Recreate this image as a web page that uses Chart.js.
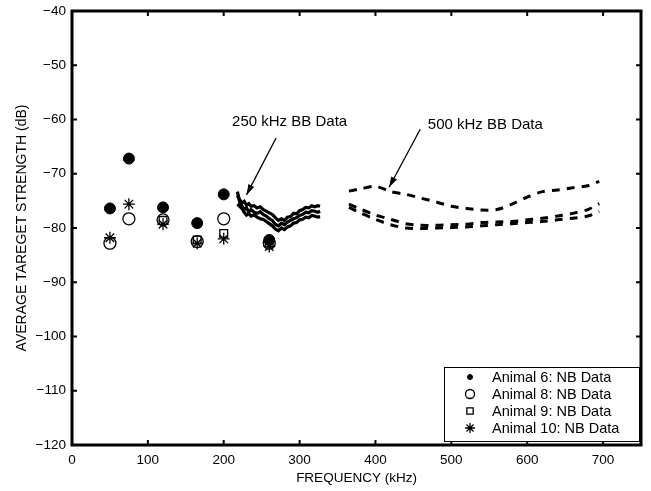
<!DOCTYPE html>
<html><head><meta charset="utf-8">
<script src="https://cdn.jsdelivr.net/npm/chart.js@4/dist/chart.umd.min.js"></script>
<style>html,body{margin:0;padding:0;background:#fff;}canvas{display:block;}</style>
</head><body>
<canvas id="c" width="651" height="491"></canvas>
<script>
// ---- data ----
const xTicks = [0, 100, 200, 300, 400, 500, 600, 700];
const yTicks = [-120, -110, -100, -90, -80, -70, -60, -50, -40];
const nbFreq = [50, 75, 120, 165, 200, 260];
const animal6 = [-76.4, -67.2, -76.2, -79.1, -73.8, -82.2];
const animal8 = [-82.8, -78.3, -78.5, -82.5, -78.3, -82.8];
const animal9 = [null, null, -78.6, -82.2, -81.0, -82.8];
const animal10 = [-81.8, -75.6, -79.3, -82.8, -82.0, -83.4];
const bb250Freq = [218, 221, 224, 227, 230, 233, 236, 240, 244, 248, 252, 256, 260, 264, 268, 272, 276, 280, 284, 288, 292, 296, 300, 304, 308, 312, 316, 320, 324, 327];
const bb250A = [-74.0, -74.8, -75.4, -75.1, -75.8, -75.5, -76.0, -75.9, -76.3, -76.1, -76.6, -76.9, -77.2, -77.5, -78.1, -78.6, -78.3, -78.6, -78.0, -77.9, -77.3, -77.4, -76.8, -76.6, -76.2, -76.3, -75.9, -76.1, -75.9, -76.0];
const bb250B = [-73.3, -75.2, -75.9, -76.6, -76.3, -77.0, -76.6, -77.1, -77.3, -77.0, -77.5, -77.8, -78.3, -78.6, -79.3, -79.6, -79.1, -79.4, -78.9, -78.6, -78.3, -78.1, -77.7, -77.5, -77.1, -77.2, -76.8, -76.9, -77.1, -76.9];
const bb250C = [-75.6, -76.0, -76.4, -77.1, -77.6, -77.3, -77.8, -77.6, -78.0, -78.3, -78.4, -78.8, -79.2, -79.6, -80.2, -80.5, -80.0, -80.3, -79.8, -79.6, -79.1, -79.0, -78.5, -78.4, -78.0, -78.1, -77.7, -77.8, -78.0, -77.9];
const bb500Freq = [365, 380, 400, 420, 440, 460, 480, 500, 520, 540, 560, 580, 600, 620, 640, 660, 680, 695];
const bb500A = [-73.2, -72.8, -72.3, -73.3, -73.8, -74.5, -75.2, -76.0, -76.4, -76.7, -76.6, -75.6, -74.3, -73.3, -73.0, -72.6, -72.2, -71.4];
const bb500B = [-75.6, -76.5, -77.6, -78.4, -79.2, -79.5, -79.5, -79.4, -79.3, -79.0, -78.9, -78.8, -78.5, -78.2, -77.8, -77.3, -76.6, -75.5];
const bb500C = [-76.2, -77.2, -78.4, -79.4, -80.0, -80.1, -80.0, -79.9, -79.8, -79.6, -79.4, -79.2, -79.0, -78.8, -78.5, -78.2, -77.8, -77.0];
const legendLabels = ['Animal 6: NB Data', 'Animal 8: NB Data', 'Animal 9: NB Data', 'Animal 10: NB Data'];
const noteTexts = ['250 kHz BB Data', '500 kHz BB Data'];
const xTitle = 'FREQUENCY (kHz)';
const yTitle = 'AVERAGE TAREGET STRENGTH (dB)';
// annotation anchors in data units [textX, textY, tailX, tailY, headX, headY]
const noteAnchors = [[211, -60.5, 269, -63.4, 230, -73.9], [469, -61.0, 459, -61.8, 418, -72.5]];

// ---- build ----
const FONT = '"Liberation Sans", Arial, sans-serif';
const minus = v => String(v).replace('-', '\u2212');
const pts = (xs, ys) => xs.map((x, i) => ({x: x, y: ys[i]})).filter(p => p.y !== null);

const nbStyles = [
  {pointStyle: 'circle', radius: 5.5, bg: '#000', bw: 1},
  {pointStyle: 'circle', radius: 6, bg: 'rgba(0,0,0,0)', bw: 1.3},
  {pointStyle: 'rect', radius: 5.5, bg: 'rgba(0,0,0,0)', bw: 1.3},
  {pointStyle: 'star', radius: 6, bg: 'rgba(0,0,0,0)', bw: 1.3}
];
const nbSeries = [animal6, animal8, animal9, animal10];
const datasets = [];
nbSeries.forEach((s, i) => {
  const st = nbStyles[i];
  datasets.push({
    label: legendLabels[i], type: 'scatter', data: pts(nbFreq, s), showLine: false,
    pointStyle: st.pointStyle, pointRadius: st.radius, pointBackgroundColor: st.bg,
    pointBorderColor: '#000', pointBorderWidth: st.bw, isNB: true
  });
});
[bb250A, bb250B, bb250C].forEach(s => datasets.push({
  type: 'line', data: pts(bb250Freq, s), borderColor: '#000', borderWidth: 3.2,
  pointRadius: 0, tension: 0, fill: false
}));
[bb500A, bb500B, bb500C].forEach(s => datasets.push({
  type: 'line', data: pts(bb500Freq, s), borderColor: '#000', borderWidth: 3,
  borderDash: [8, 7], pointRadius: 0, tension: 0.3, fill: false
}));

const framePlugin = {
  id: 'frame',
  afterDraw(chart) {
    const ctx = chart.ctx, a = chart.chartArea, xs = chart.scales.x, ys = chart.scales.y;
    ctx.save();
    ctx.strokeStyle = '#000';
    ctx.lineWidth = 3;
    ctx.strokeRect(a.left, a.top, a.right - a.left, a.bottom - a.top);
    ctx.lineWidth = 2;
    ctx.beginPath();
    xTicks.forEach(t => {
      const px = xs.getPixelForValue(t);
      ctx.moveTo(px, a.bottom); ctx.lineTo(px, a.bottom - 5);
      ctx.moveTo(px, a.top); ctx.lineTo(px, a.top + 5);
    });
    yTicks.forEach(t => {
      const py = ys.getPixelForValue(t);
      ctx.moveTo(a.left, py); ctx.lineTo(a.left + 5, py);
      ctx.moveTo(a.right, py); ctx.lineTo(a.right - 5, py);
    });
    ctx.stroke();
    // annotations
    ctx.fillStyle = '#000';
    ctx.font = '15px ' + FONT;
    ctx.textBaseline = 'middle';
    ctx.textAlign = 'left';
    noteAnchors.forEach((n, i) => {
      ctx.fillText(noteTexts[i], xs.getPixelForValue(n[0]), ys.getPixelForValue(n[1]));
      const x1 = xs.getPixelForValue(n[2]), y1 = ys.getPixelForValue(n[3]);
      const x2 = xs.getPixelForValue(n[4]), y2 = ys.getPixelForValue(n[5]);
      ctx.lineWidth = 1.3;
      ctx.beginPath(); ctx.moveTo(x1, y1); ctx.lineTo(x2, y2); ctx.stroke();
      const ang = Math.atan2(y2 - y1, x2 - x1), L = 11, w = 0.3;
      ctx.beginPath();
      ctx.moveTo(x2, y2);
      ctx.lineTo(x2 - L * Math.cos(ang - w), y2 - L * Math.sin(ang - w));
      ctx.lineTo(x2 - L * Math.cos(ang + w), y2 - L * Math.sin(ang + w));
      ctx.closePath(); ctx.fill();
    });
    // legend
    const bx = a.right - 197, by = a.bottom - 78, bw = 195, bh = 74;
    ctx.fillStyle = '#fff';
    ctx.fillRect(bx, by, bw, bh);
    ctx.lineWidth = 1;
    ctx.strokeStyle = '#000';
    ctx.strokeRect(bx + 0.5, by + 0.5, bw, bh);
    ctx.font = '14.5px ' + FONT;
    chart.data.datasets.filter(d => d.isNB).forEach((d, i) => {
      const ry = by + 10 + i * 17;
      const mx = bx + 26;
      ctx.save();
      ctx.lineWidth = d.pointBorderWidth;
      ctx.strokeStyle = '#000';
      ctx.fillStyle = d.pointBackgroundColor;
      const r = i === 0 ? 2.5 : (i === 3 ? 5 : 4.5);
      Chart.helpers.drawPoint(ctx, {pointStyle: d.pointStyle, radius: r, borderWidth: d.pointBorderWidth}, mx, ry);
      ctx.restore();
      ctx.fillStyle = '#000';
      ctx.textAlign = 'left';
      ctx.fillText(d.label, bx + 48, ry + 1);
    });
    ctx.restore();
  }
};

new Chart(document.getElementById('c'), {
  type: 'scatter',
  data: {datasets: datasets},
  options: {
    responsive: false, animation: false, devicePixelRatio: 1,
    layout: {padding: {top: 11, right: 10, left: 14, bottom: 0}},
    plugins: {legend: {display: false}, tooltip: {enabled: false}},
    scales: {
      x: {
        type: 'linear', min: 0, max: 750,
        afterBuildTicks: s => { s.ticks = xTicks.map(v => ({value: v})); },
        afterFit: s => { s.height = 46; s.paddingLeft = 0; s.paddingRight = 0; },
        grid: {display: false, drawTicks: false},
        border: {display: false},
        ticks: {color: '#000', font: {family: FONT, size: 13.5}, padding: 7, maxRotation: 0, callback: v => minus(v)},
        title: {display: true, text: xTitle, color: '#000', font: {family: FONT, size: 13.5}, padding: {top: 0, bottom: 5}}
      },
      y: {
        type: 'linear', min: -120, max: -40,
        afterBuildTicks: s => { s.ticks = yTicks.map(v => ({value: v})); },
        afterFit: s => { s.width = 58; s.paddingTop = 0; s.paddingBottom = 0; },
        grid: {display: false, drawTicks: false},
        border: {display: false},
        ticks: {color: '#000', font: {family: FONT, size: 13.5}, padding: 6, callback: v => minus(v)},
        title: {display: true, text: yTitle, color: '#000', font: {family: FONT, size: 14}, padding: {top: 0, bottom: 0}}
      }
    }
  },
  plugins: [framePlugin]
});
</script>
</body></html>
